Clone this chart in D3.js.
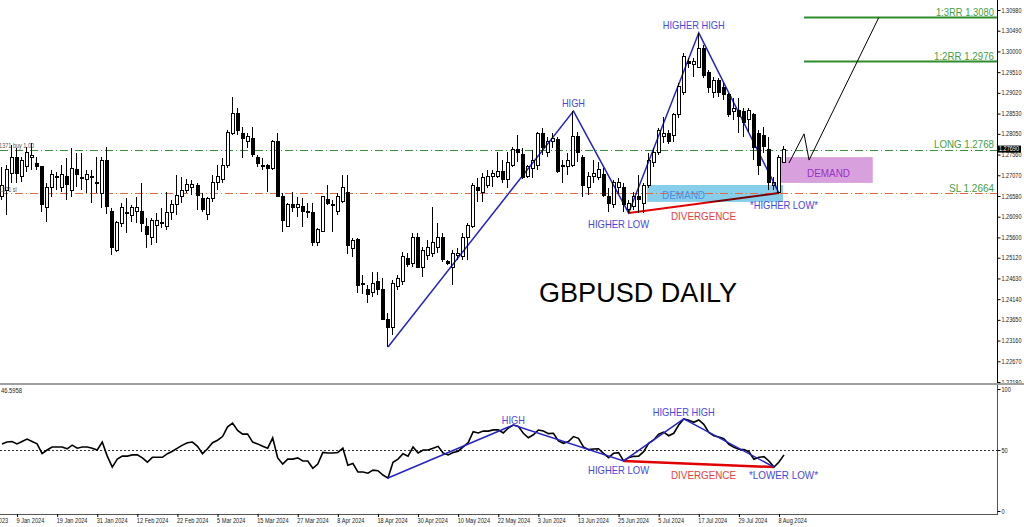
<!DOCTYPE html>
<html>
<head>
<meta charset="utf-8">
<script src="https://cdn.jsdelivr.net/npm/d3@7"></script>
<style>
  body { margin: 0; background: #fff; }
  svg { display: block; }
  text { font-family: "Liberation Sans", Arial, sans-serif; }
</style>
</head>
<body>
<svg id="chart" width="1024" height="527"></svg>
<script>
// daily candles, 4 Jan 2024 .. 9 Aug 2024: [open, high, low, close]
const candles = [
  [1.2656,1.2727,1.2649,1.2684],[1.2672,1.2731,1.2613,1.2720],[1.2712,1.2779,1.2689,1.2748],[1.2748,1.2772,1.2689,1.2712],
  [1.2703,1.2750,1.2691,1.2743],[1.2727,1.2774,1.2715,1.2762],[1.2748,1.2783,1.2720,1.2753],[1.2736,1.2750,1.2720,1.2727],
  [1.2727,1.2729,1.2620,1.2637],[1.2630,1.2689,1.2596,1.2679],[1.2677,1.2720,1.2656,1.2708],[1.2705,1.2715,1.2672,1.2703],
  [1.2679,1.2731,1.2667,1.2708],[1.2703,1.2748,1.2649,1.2686],[1.2672,1.2772,1.2656,1.2724],[1.2720,1.2760,1.2679,1.2708],
  [1.2701,1.2760,1.2672,1.2699],[1.2696,1.2720,1.2665,1.2710],[1.2705,1.2720,1.2641,1.2701],[1.2689,1.2750,1.2665,1.2688],
  [1.2665,1.2750,1.2630,1.2743],[1.2741,1.2774,1.2615,1.2632],[1.2622,1.2630,1.2518,1.2535],[1.2530,1.2599,1.2526,1.2596],
  [1.2594,1.2641,1.2585,1.2630],[1.2618,1.2653,1.2570,1.2617],[1.2611,1.2637,1.2596,1.2630],[1.2622,1.2656,1.2594,1.2630],
  [1.2622,1.2689,1.2573,1.2592],[1.2587,1.2606,1.2535,1.2566],[1.2559,1.2606,1.2542,1.2601],[1.2589,1.2618,1.2547,1.2601],
  [1.2596,1.2630,1.2582,1.2595],[1.2585,1.2667,1.2578,1.2620],[1.2620,1.2649,1.2601,1.2637],[1.2637,1.2708,1.2613,1.2660],
  [1.2656,1.2703,1.2641,1.2672],[1.2672,1.2698,1.2665,1.2686],[1.2677,1.2696,1.2660,1.2686],[1.2682,1.2689,1.2625,1.2660],
  [1.2653,1.2665,1.2620,1.2625],[1.2615,1.2656,1.2601,1.2653],[1.2651,1.2708,1.2644,1.2691],[1.2691,1.2731,1.2672,1.2705],
  [1.2698,1.2748,1.2689,1.2731],[1.2731,1.2814,1.2724,1.2809],[1.2807,1.2892,1.2802,1.2854],[1.2854,1.2866,1.2802,1.2814],
  [1.2807,1.2821,1.2748,1.2795],[1.2786,1.2807,1.2772,1.2798],[1.2795,1.2821,1.2750,1.2755],[1.2750,1.2755,1.2727,1.2736],
  [1.2729,1.2748,1.2720,1.2728],[1.2731,1.2734,1.2667,1.2722],[1.2722,1.2791,1.2720,1.2786],[1.2786,1.2807,1.2656,1.2658],
  [1.2656,1.2665,1.2573,1.2599],[1.2587,1.2641,1.2585,1.2637],[1.2637,1.2667,1.2620,1.2630],[1.2630,1.2656,1.2608,1.2637],
  [1.2632,1.2653,1.2585,1.2622],[1.2622,1.2641,1.2606,1.2618],[1.2618,1.2641,1.2540,1.2549],[1.2549,1.2582,1.2540,1.2578],
  [1.2575,1.2658,1.2573,1.2656],[1.2649,1.2684,1.2637,1.2641],[1.2639,1.2649,1.2573,1.2638],[1.2622,1.2665,1.2613,1.2656],
  [1.2644,1.2708,1.2641,1.2677],[1.2667,1.2708,1.2521,1.2540],[1.2533,1.2559,1.2514,1.2552],[1.2554,1.2559,1.2429,1.2447],
  [1.2450,1.2471,1.2426,1.2449],[1.2438,1.2447,1.2405,1.2426],[1.2429,1.2478,1.2419,1.2452],[1.2455,1.2478,1.2424,1.2436],
  [1.2436,1.2464,1.2365,1.2367],[1.2367,1.2381,1.2301,1.2348],[1.2348,1.2459,1.2329,1.2452],[1.2443,1.2471,1.2436,1.2464],
  [1.2455,1.2526,1.2447,1.2514],[1.2511,1.2523,1.2490,1.2495],[1.2499,1.2570,1.2490,1.2561],[1.2559,1.2570,1.2488,1.2490],
  [1.2488,1.2537,1.2466,1.2530],[1.2518,1.2554,1.2507,1.2535],[1.2523,1.2632,1.2514,1.2547],[1.2535,1.2594,1.2523,1.2561],
  [1.2561,1.2570,1.2502,1.2507],[1.2502,1.2507,1.2495,1.2498],[1.2490,1.2530,1.2447,1.2523],[1.2518,1.2535,1.2507,1.2523],
  [1.2514,1.2570,1.2507,1.2561],[1.2559,1.2594,1.2507,1.2589],[1.2585,1.2689,1.2582,1.2684],[1.2679,1.2701,1.2644,1.2672],
  [1.2667,1.2712,1.2644,1.2701],[1.2684,1.2720,1.2677,1.2705],[1.2705,1.2720,1.2679,1.2712],[1.2705,1.2762,1.2701,1.2717],
  [1.2715,1.2743,1.2689,1.2698],[1.2696,1.2762,1.2677,1.2738],[1.2731,1.2774,1.2727,1.2767],[1.2769,1.2802,1.2738,1.2760],
  [1.2755,1.2772,1.2698,1.2701],[1.2703,1.2731,1.2701,1.2727],[1.2724,1.2767,1.2701,1.2743],[1.2731,1.2809,1.2720,1.2807],
  [1.2805,1.2819,1.2755,1.2772],[1.2762,1.2798,1.2750,1.2786],[1.2786,1.2807,1.2772,1.2795],[1.2791,1.2798,1.2712,1.2715],
  [1.2727,1.2743,1.2689,1.2731],[1.2727,1.2760,1.2708,1.2743],[1.2731,1.2859,1.2727,1.2798],[1.2798,1.2809,1.2738,1.2762],
  [1.2750,1.2755,1.2656,1.2684],[1.2677,1.2715,1.2660,1.2703],[1.2703,1.2743,1.2689,1.2712],[1.2701,1.2738,1.2696,1.2720],
  [1.2708,1.2724,1.2656,1.2660],[1.2656,1.2677,1.2620,1.2641],[1.2637,1.2696,1.2630,1.2689],[1.2677,1.2701,1.2665,1.2689],
  [1.2679,1.2689,1.2620,1.2637],[1.2625,1.2649,1.2618,1.2641],[1.2632,1.2667,1.2625,1.2656],[1.2656,1.2708,1.2618,1.2649],
  [1.2641,1.2689,1.2618,1.2684],[1.2684,1.2760,1.2677,1.2743],[1.2738,1.2772,1.2727,1.2760],[1.2760,1.2819,1.2755,1.2814],
  [1.2798,1.2845,1.2783,1.2807],[1.2807,1.2814,1.2781,1.2786],[1.2802,1.2854,1.2786,1.2850],[1.2850,1.2926,1.2843,1.2916],
  [1.2904,1.2996,1.2897,1.2987],[1.2975,1.2985,1.2961,1.2972],[1.2968,1.2985,1.2940,1.2975],[1.2963,1.3044,1.2961,1.3008],
  [1.3008,1.3015,1.2937,1.2942],[1.2949,1.2956,1.2902,1.2914],[1.2904,1.2940,1.2890,1.2932],[1.2932,1.2937,1.2892,1.2904],
  [1.2914,1.2926,1.2885,1.2897],[1.2897,1.2902,1.2845,1.2850],[1.2859,1.2890,1.2838,1.2866],[1.2861,1.2890,1.2807,1.2845],
  [1.2857,1.2866,1.2798,1.2833],[1.2838,1.2866,1.2809,1.2861],[1.2850,1.2854,1.2743,1.2772],[1.2807,1.2814,1.2708,1.2731],
  [1.2802,1.2821,1.2760,1.2774],[1.2767,1.2798,1.2672,1.2691],[1.2684,1.2703,1.2672,1.2691],[1.2667,1.2755,1.2665,1.2750],
  [1.2738,1.2776,1.2736,1.2769]
];

// oscillator, one value per candle
const oscillator = [
  55,56.5,57,55,57,59,57,55,47,50,52.5,52.5,52.5,51,54,51.5,52.5,52.5,51.5,50,
  56.5,45,36,42.5,45,45,46,46,43.5,40,44,44,44,47,49,51.5,54,56,56.5,53,
  47,51,56,58,61,69,72,66,63,63,56.5,55,53,51.5,60,43.5,38.5,42.5,42.5,43.5,
  41,41,35,38.5,48,47.5,47.5,48,51.5,37.5,39,32,32,31,33.5,33,29.5,27,40,42.5,
  47,45,52.5,47.5,50,50,51.5,53,47.5,46,48,49,52.5,56,65,64,65.5,65.5,66.5,66.5,
  64,68,70.5,69.4,63.7,60,62.5,66.4,65.6,63.4,63.7,57.4,55.5,57,61,59.6,52.5,50.3,50.8,51,
  47.3,43.7,47.3,47.8,41,43.7,44.8,45,48.6,55.5,58.2,63,64.7,61.7,63.7,70.5,75.5,74.3,72.7,74.6,
  71,64.5,61.7,60.7,59.3,54.7,52.2,50.6,50.3,48.6,42.4,44,44.5,41,36,40.2,46
];

// axis labels
const priceTicks = [1.30980,1.30490,1.30000,1.29510,1.29020,1.28530,1.28050,1.27560,1.27070,1.26580,
  1.26090,1.25600,1.25120,1.24630,1.24140,1.23650,1.23160,1.22670,1.22180];
const dateBars = [-5,3,11,19,27,35,43,51,59,67,75,83,91,99,107,115,123,131,139,147,155];
const dateLabels = ["29 Dec 2023","9 Jan 2024","19 Jan 2024","31 Jan 2024","12 Feb 2024","22 Feb 2024",
  "5 Mar 2024","15 Mar 2024","27 Mar 2024","8 Apr 2024","18 Apr 2024","30 Apr 2024","10 May 2024",
  "22 May 2024","3 Jun 2024","13 Jun 2024","25 Jun 2024","5 Jul 2024","17 Jul 2024","29 Jul 2024","8 Aug 2024"];
const oscTicks = [0, 50, 100];

// swing points (bar index, value)
const swingBars = [77, 114, 125, 139, 155];
const swingPrices = [1.2301, 1.2859, 1.2618, 1.3044, 1.2665];
const oscSwingBars = [77, 102, 124, 136, 154];
const oscSwingValues = [27, 70.5, 41, 75.5, 36];

// trade levels
const levelNames = ["LONG", "SL", "1:2RR", "1:3RR"];
const levelPrices = [1.2768, 1.2664, 1.2976, 1.3080];

// zones [fromBar, toBar, top, bottom]
const demandLow = [128.7, 155.8, 1.2684, 1.2644];
const demandHigh = [155.2, 173.7, 1.2750, 1.2689];

// projected path
const projBars = [157, 160, 161, 174.9];
const projPrices = [1.2736, 1.2805, 1.2743, 1.3080];

const lastPrice = 1.2769;
const oscLast = "46.5958";

// 配置
const plotRight = 997;
const mainBottom = 383;
const oscBottom = 514;
const blueLine = "#2424c4", blueText = "#4848e0";
const greenText = "#45a045";

const svg = d3.select("#chart");

const x = d3.scaleLinear().domain([0, 156]).range([2, 784]);
const yP = d3.scaleLinear().domain([1.2218, 1.3098]).range([382, 10]);
const yO = d3.scaleLinear().domain([0, 100]).range([511, 389]);

const defs = svg.append("defs");
defs.append("clipPath").attr("id", "clipMain")
  .append("rect").attr("x", 0).attr("y", 0).attr("width", plotRight).attr("height", mainBottom);
defs.append("clipPath").attr("id", "clipOsc")
  .append("rect").attr("x", 0).attr("y", 385).attr("width", plotRight).attr("height", oscBottom - 385);

function fit(sel, w) {
  sel.attr("textLength", w).attr("lengthAdjust", "spacingAndGlyphs");
}
function squeeze(sel, f) {
  sel.each(function () {
    const n = this.getComputedTextLength();
    d3.select(this).attr("textLength", n * f).attr("lengthAdjust", "spacingAndGlyphs");
  });
}

const main = svg.append("g").attr("clip-path", "url(#clipMain)");

// zones
main.append("rect")
  .attr("x", x(demandLow[0])).attr("width", x(demandLow[1]) - x(demandLow[0]))
  .attr("y", yP(demandLow[2])).attr("height", yP(demandLow[3]) - yP(demandLow[2]))
  .attr("fill", "#87ceeb");
main.append("rect")
  .attr("x", x(demandHigh[0])).attr("width", x(demandHigh[1]) - x(demandHigh[0]))
  .attr("y", yP(demandHigh[2])).attr("height", yP(demandHigh[3]) - yP(demandHigh[2]))
  .attr("fill", "#d8a0dc");

// entry / stop lines
const ly = p => Math.round(yP(p)) + 0.5;
main.append("line").attr("x1", 0).attr("x2", plotRight)
  .attr("y1", ly(levelPrices[0])).attr("y2", ly(levelPrices[0]))
  .attr("stroke", "#3a8f3a").attr("stroke-dasharray", "8,3,1,3");
main.append("line").attr("x1", 0).attr("x2", plotRight)
  .attr("y1", ly(levelPrices[1])).attr("y2", ly(levelPrices[1]))
  .attr("stroke", "#e06a3c").attr("stroke-dasharray", "8,3,1,3");

// target lines
[2, 3].forEach(function (j) {
  main.append("line").attr("x1", x(projBars[1])).attr("x2", plotRight)
    .attr("y1", yP(levelPrices[j])).attr("y2", yP(levelPrices[j]))
    .attr("stroke", "#2e8b2e").attr("stroke-width", 2);
});

// candles
const cg = main.append("g").attr("shape-rendering", "crispEdges");
const cx = i => Math.round(x(i));
cg.selectAll(".wick").data(candles).enter().append("line")
  .attr("class", "wick")
  .attr("x1", (d, i) => cx(i) - 0.5).attr("x2", (d, i) => cx(i) - 0.5)
  .attr("y1", d => yP(d[1])).attr("y2", d => yP(d[2]))
  .attr("stroke", "#000");
cg.selectAll(".body").data(candles).enter().append("rect")
  .attr("class", "body")
  .attr("x", (d, i) => cx(i) - 2).attr("width", 3)
  .attr("y", d => yP(Math.max(d[0], d[3])))
  .attr("height", d => Math.max(1, Math.abs(yP(d[0]) - yP(d[3]))))
  .attr("fill", d => d[3] >= d[0] ? "#fff" : "#000")
  .attr("stroke", "#000");

// zigzag + divergence
const pLine = d3.line().x(d => x(d[0])).y(d => yP(d[1]));
main.append("path")
  .attr("d", pLine([[swingBars[2], swingPrices[2]], [swingBars[4], swingPrices[4]]]))
  .attr("fill", "none").attr("stroke", "#e00000").attr("stroke-width", 2)
  .style("mix-blend-mode", "multiply");
main.append("path")
  .attr("d", pLine(d3.zip(swingBars, swingPrices)))
  .attr("fill", "none").attr("stroke", blueLine).attr("stroke-width", 1.5)
  .style("mix-blend-mode", "multiply");

// projected path
main.append("path")
  .attr("d", pLine(d3.zip(projBars, projPrices)))
  .attr("fill", "none").attr("stroke", "#000").attr("stroke-width", 1);

// texts on the price panel
function label(g, t, px, py, w, color, size) {
  g.append("text").attr("x", px).attr("y", py).attr("text-anchor", "middle")
    .attr("font-size", size || 11).attr("fill", color).text(t).call(fit, w);
}
label(svg, "HIGH", x(swingBars[1]), yP(swingPrices[1]) - 4, 23, blueText);
label(svg, "HIGHER HIGH", x(swingBars[3]) - 5, yP(swingPrices[3]) - 4, 62, blueText);
label(svg, "HIGHER LOW", x(swingBars[2]) - 10, yP(swingPrices[2]) + 15, 61, blueText);
label(svg, "DIVERGENCE", 703.5, 220, 65, "#e84040");
label(svg, "*HIGHER LOW*", x(swingBars[4]) + 5, yP(swingPrices[4]) + 16, 68, blueText);
label(svg, "DEMAND", 683.5, 199, 43, "#4a8ee0");
label(svg, "DEMAND", 828.5, 177, 43, "#9a30c8", 11.5);
label(svg, "GBPUSD DAILY", 638, 302, 198, "#000", 27);

// level labels on the right
const lvlW = [60, 45, 60, 58];
levelNames.forEach(function (n, j) {
  svg.append("text").attr("x", 994).attr("y", yP(levelPrices[j]) - 1.5)
    .attr("text-anchor", "end").attr("font-size", 11.5).attr("fill", greenText)
    .text(n + " " + levelPrices[j].toFixed(4)).call(fit, lvlW[j]);
});

// order tags at the left
svg.append("text").attr("x", -4).attr("y", 147.5).attr("font-size", 6.5).attr("fill", "#555")
  .text("#1371 buy 1.00").call(squeeze, 0.85);
svg.append("text").attr("x", -1).attr("y", 192).attr("font-size", 6.5).attr("fill", "#555")
  .text("1371 sl").call(squeeze, 0.85);

// price axis
svg.append("line").attr("x1", plotRight + 0.5).attr("x2", plotRight + 0.5)
  .attr("y1", 0).attr("y2", mainBottom).attr("stroke", "#000");
const pAxis = svg.append("g").attr("transform", "translate(" + (plotRight + 0.5) + ",0)")
  .call(d3.axisRight(yP).tickValues(priceTicks).tickFormat(d3.format(".5f"))
    .tickSize(3).tickSizeOuter(0).tickPadding(1));
pAxis.select(".domain").remove();
pAxis.selectAll("text").attr("font-size", 6.3).attr("fill", "#222")
  .attr("font-family", "'Liberation Sans', Arial, sans-serif").call(fit, 20);

// current price tag
svg.append("rect").attr("x", plotRight + 1).attr("y", yP(lastPrice) - 3.5)
  .attr("width", 23).attr("height", 7).attr("fill", "#000");
svg.append("text").attr("x", plotRight + 2).attr("y", yP(lastPrice) + 2.3)
  .attr("font-size", 6.3).attr("fill", "#fff").text(lastPrice.toFixed(5)).call(fit, 20);

// separator
svg.append("rect").attr("x", 0).attr("y", mainBottom).attr("width", 1024).attr("height", 2).attr("fill", "#a0a0a0");

// oscillator panel
const osc = svg.append("g").attr("clip-path", "url(#clipOsc)");
osc.append("line").attr("x1", 0).attr("x2", plotRight)
  .attr("y1", Math.round(yO(50)) + 0.5).attr("y2", Math.round(yO(50)) + 0.5)
  .attr("stroke", "#333").attr("stroke-dasharray", "2,2");
osc.append("path")
  .attr("d", d3.line().x((d, i) => x(i)).y(d => yO(d))(oscillator))
  .attr("fill", "none").attr("stroke", "#000").attr("stroke-width", 1.6);

const oLine = d3.line().x(d => x(d[0])).y(d => yO(d[1]));
osc.append("path")
  .attr("d", oLine([[oscSwingBars[2], oscSwingValues[2]], [oscSwingBars[4], oscSwingValues[4]]]))
  .attr("fill", "none").attr("stroke", "#e00000").attr("stroke-width", 2.5);
osc.append("path")
  .attr("d", oLine(d3.zip(oscSwingBars, oscSwingValues)))
  .attr("fill", "none").attr("stroke", blueLine).attr("stroke-width", 1.5);

label(svg, "HIGH", x(oscSwingBars[1]), yO(oscSwingValues[1]) - 1, 23, blueText);
label(svg, "HIGHER HIGH", x(oscSwingBars[3]), yO(oscSwingValues[3]) - 3, 62, blueText);
label(svg, "HIGHER LOW", x(oscSwingBars[2]) - 5, yO(oscSwingValues[2]) + 13, 61, blueText);
label(svg, "DIVERGENCE", 703.5, 479, 65, "#e84040");
label(svg, "*LOWER LOW*", x(oscSwingBars[4]) + 9.5, 479, 69, blueText);

svg.append("text").attr("x", 1).attr("y", 393).attr("font-size", 6.5).attr("fill", "#222")
  .text(oscLast).call(fit, 21);

// oscillator axes
svg.append("line").attr("x1", plotRight + 0.5).attr("x2", plotRight + 0.5)
  .attr("y1", 385).attr("y2", oscBottom).attr("stroke", "#555");
svg.append("line").attr("x1", 0).attr("x2", plotRight + 1)
  .attr("y1", oscBottom + 0.5).attr("y2", oscBottom + 0.5).attr("stroke", "#555");
const oAxis = svg.append("g").attr("transform", "translate(" + (plotRight + 0.5) + ",0)")
  .call(d3.axisRight(yO).tickValues(oscTicks).tickSize(3).tickSizeOuter(0).tickPadding(1));
oAxis.select(".domain").remove();
oAxis.selectAll("text").attr("font-size", 7).attr("fill", "#222")
  .attr("font-family", "'Liberation Sans', Arial, sans-serif").call(squeeze, 0.8);

// date axis
const dAxis = svg.append("g").attr("transform", "translate(0," + oscBottom + ")")
  .call(d3.axisBottom(x).tickValues(dateBars).tickFormat((d, i) => dateLabels[i])
    .tickSize(3).tickSizeOuter(0));
dAxis.select(".domain").remove();
dAxis.selectAll("text").attr("text-anchor", "start").attr("x", -1).attr("y", 4)
  .attr("font-size", 7).attr("fill", "#222")
  .attr("font-family", "'Liberation Sans', Arial, sans-serif").call(squeeze, 0.8);
</script>
</body>
</html>
